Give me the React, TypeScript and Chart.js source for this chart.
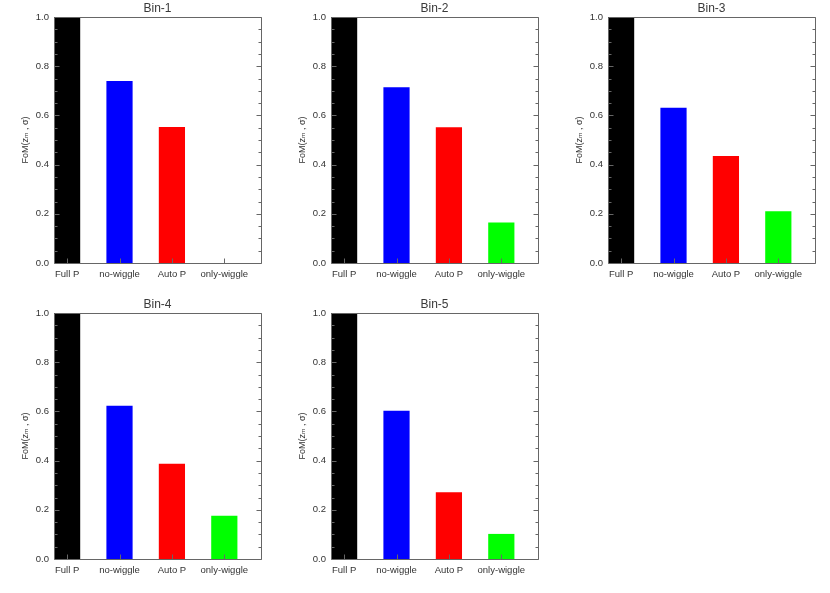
import React, { useEffect, useRef } from "react";
import { Chart, registerables } from "chart.js";

Chart.register(...registerables);

// ---- data ----
const categories = ["Full P", "no-wiggle", "Auto P", "only-wiggle"];
const barColors = ["#000000", "#0000ff", "#ff0000", "#00ff00"];
const binTitles = ["Bin-1", "Bin-2", "Bin-3", "Bin-4", "Bin-5"];
const bin1 = [1.0, 0.74, 0.553, 0.0];
const bin2 = [1.0, 0.714, 0.552, 0.165];
const bin3 = [1.0, 0.631, 0.435, 0.21];
const bin4 = [1.0, 0.623, 0.387, 0.176];
const bin5 = [1.0, 0.603, 0.271, 0.102];
const yTicks = [0, 0.2, 0.4, 0.6, 0.8, 1.0];
const yTitle = "FoM(zₘ , σ)";

// ---- layout / style ----
const FONT = "'Liberation Sans', 'DejaVu Sans', sans-serif";
const TEXT = "#333333";
const FRAME = "#666666";
const AXIS_W = 54;
const TITLE_H = 17;
const PLOT_W = 207;
const PLOT_H = 246;
const XAXIS_H = 30;
const RIGHT_PAD = 10;
const CANVAS_W = AXIS_W + PLOT_W + RIGHT_PAD;
const CANVAS_H = TITLE_H + PLOT_H + XAXIS_H;

const panels = [
  { title: binTitles[0], values: bin1, left: 54, top: 17 },
  { title: binTitles[1], values: bin2, left: 331, top: 17 },
  { title: binTitles[2], values: bin3, left: 608, top: 17 },
  { title: binTitles[3], values: bin4, left: 54, top: 313 },
  { title: binTitles[4], values: bin5, left: 331, top: 313 },
];

const frameTicks = {
  id: "frameTicks",
  afterDatasetsDraw(chart: any) {
    const { ctx, chartArea: a, scales } = chart;
    const xs = scales.x;
    const ys = scales.y;
    const L = Math.round(a.left) + 0.5;
    const R = Math.round(a.right) + 0.5;
    const T = Math.round(a.top) + 0.5;
    const B = Math.round(a.bottom) + 0.5;
    ctx.save();
    ctx.strokeStyle = FRAME;
    ctx.lineWidth = 1;
    ctx.beginPath();
    ctx.rect(L, T, R - L, B - T);
    for (let k = 0; k <= 20; k++) {
      const py = Math.round(ys.getPixelForValue(k * 0.05)) + 0.5;
      const len = k % 4 === 0 ? 5 : 3;
      ctx.moveTo(L, py);
      ctx.lineTo(L + len, py);
      ctx.moveTo(R, py);
      ctx.lineTo(R - len, py);
    }
    categories.forEach((_, i) => {
      const px = Math.round(xs.getPixelForValue(i)) + 0.5;
      ctx.moveTo(px, B);
      ctx.lineTo(px, B - 5);
    });
    ctx.stroke();
    ctx.restore();
  },
};

function Panel({ title, values, left, top }: { title: string; values: number[]; left: number; top: number }) {
  const ref = useRef<HTMLCanvasElement>(null);
  useEffect(() => {
    const chart = new Chart(ref.current as HTMLCanvasElement, {
      type: "bar",
      data: {
        datasets: [
          {
            data: values.map((v, i) => ({ x: i, y: v })),
            backgroundColor: barColors,
            borderWidth: 0,
            barPercentage: 0.5,
            categoryPercentage: 1.0,
          },
        ],
      },
      options: {
        animation: false,
        responsive: false,
        maintainAspectRatio: false,
        layout: { padding: { left: 0, right: RIGHT_PAD, top: 0, bottom: 0 } },
        plugins: {
          legend: { display: false },
          tooltip: { enabled: false },
          title: {
            display: true,
            text: title,
            fullSize: false,
            color: "#3a3a3a",
            font: { family: FONT, size: 12, weight: "normal", lineHeight: 1 },
            padding: { top: 3, bottom: 2 },
          },
        },
        scales: {
          x: {
            type: "linear",
            min: -0.25,
            max: 3.7,
            offset: false,
            grid: { display: false, drawTicks: false },
            border: { display: false },
            afterBuildTicks: (s: any) => {
              s.ticks = categories.map((_, i) => ({ value: i }));
            },
            afterFit: (s: any) => {
              s.height = XAXIS_H;
            },
            ticks: {
              autoSkip: false,
              maxRotation: 0,
              padding: 5.5,
              color: TEXT,
              font: { family: FONT, size: 9.5 },
              callback: (v: any) => categories[Number(v)] ?? "",
            },
          },
          y: {
            type: "linear",
            min: 0,
            max: 1,
            grid: { display: false, drawTicks: false },
            border: { display: false },
            afterBuildTicks: (s: any) => {
              s.ticks = yTicks.map((v) => ({ value: v }));
            },
            afterFit: (s: any) => {
              s.width = AXIS_W;
            },
            ticks: {
              padding: 5,
              color: TEXT,
              font: { family: FONT, size: 9.5 },
              callback: (v: any) => Number(v).toFixed(1),
            },
            title: {
              display: true,
              text: yTitle,
              color: TEXT,
              font: { family: FONT, size: 9 },
              padding: { top: 20, bottom: 0 },
            },
          },
        },
      } as any,
      plugins: [frameTicks],
    });
    return () => chart.destroy();
  }, []);
  return (
    <canvas
      ref={ref}
      width={CANVAS_W}
      height={CANVAS_H}
      style={{ position: "absolute", left: left - AXIS_W, top: top - TITLE_H, width: CANVAS_W, height: CANVAS_H }}
    />
  );
}

export default function App() {
  return (
    <div style={{ position: "absolute", left: 0, top: 0, width: 830, height: 593, background: "#ffffff" }}>
      {panels.map((p) => (
        <Panel key={p.title} title={p.title} values={p.values} left={p.left} top={p.top} />
      ))}
    </div>
  );
}
